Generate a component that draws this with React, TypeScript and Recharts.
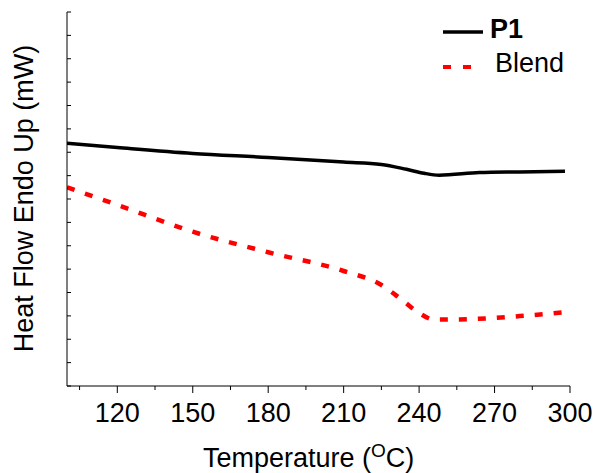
import { LineChart, Line, XAxis, YAxis } from 'recharts';

// temperature (°C) and heat flow (arbitrary units)
const p1Temp = [100, 120, 150, 180, 210, 225, 235, 242, 248, 264, 280, 298];
const p1Flow = [10.38, 10.2, 9.95, 9.78, 9.58, 9.48, 9.27, 9.1, 9.02, 9.13, 9.16, 9.19];

const blendTemp = [100, 120, 150, 180, 210, 225, 233, 240, 246, 260, 280, 298];
const blendFlow = [8.5, 7.75, 6.6, 5.72, 4.92, 4.32, 3.7, 3.12, 2.84, 2.86, 2.99, 3.16];

const xTicks = [105, 120, 135, 150, 165, 180, 195, 210, 225, 240, 255, 270, 285, 300];
const yTicks = [0, 1, 2, 3, 4, 5, 6, 7, 8, 9, 10, 11, 12, 13, 14, 15, 16];

const p1Data = p1Temp.map((t, i) => ({ t, v: p1Flow[i] }));
const blendData = blendTemp.map((t, i) => ({ t, v: blendFlow[i] }));

const FONT = '"Liberation Sans", Arial, sans-serif';

function XTick(props: any) {
    const { x, y, payload } = props;
    const major = payload.value % 30 === 0;
    return (
        <g>
            <line x1={x} x2={x} y1={y} y2={y + (major ? 7 : 4)} stroke="#000" strokeWidth={1} />
            {major && (
                <text x={x} y={y + 36} textAnchor="middle" fontSize={27} fontFamily={FONT} fill="#000">
                    {payload.value}
                </text>
            )}
        </g>
    );
}

function YTick(props: any) {
    const { x, y } = props;
    return <line x1={x} x2={x + 4} y1={y} y2={y} stroke="#000" strokeWidth={1} />;
}

function LegendBox() {
    return (
        <svg width={597} height={90} style={{ position: 'absolute', left: 0, top: 0, pointerEvents: 'none' }}>
            <line x1={443} x2={483} y1={32} y2={32} stroke="#000" strokeWidth={3.5} />
            <text x={490} y={38} fontSize={27} fontWeight="bold" fontFamily={FONT} fill="#000">P1</text>
            <line x1={443} x2={483} y1={67} y2={67} stroke="#ff0000" strokeWidth={4} strokeDasharray="8 12" />
            <text x={495} y={72} fontSize={27} fontFamily={FONT} fill="#000">Blend</text>
        </svg>
    );
}

export default function App() {
    return (
        <div style={{ position: 'absolute', left: 0, top: 0, width: 597, height: 473 }}>
            <LineChart width={597} height={473} margin={{ top: 12, right: 27, left: 0, bottom: 0 }}>
                <XAxis
                    type="number"
                    dataKey="t"
                    domain={[100, 300]}
                    ticks={xTicks}
                    allowDataOverflow
                    height={87}
                    tickSize={0}
                    tickMargin={0}
                    tickLine={false}
                    tick={<XTick />}
                    axisLine={{ stroke: '#000', strokeWidth: 1 }}
                    label={{
                        content: (p: any) => {
                            const vb = p.viewBox;
                            return (
                                <text x={203} y={vb.y + 81} textAnchor="start" fontSize={27} fontFamily={FONT} fill="#000">
                                    Temperature (<tspan fontSize={19} dy={-10}>O</tspan><tspan dy={10}>C)</tspan>
                                </text>
                            );
                        }
                    }}
                />
                <YAxis
                    type="number"
                    dataKey="v"
                    domain={[0, 16]}
                    ticks={yTicks}
                    width={67}
                    tickSize={0}
                    tickMargin={0}
                    tickLine={false}
                    tick={<YTick />}
                    axisLine={{ stroke: '#000', strokeWidth: 1 }}
                    label={{
                        content: () => (
                            <text x={33} y={198.5} transform="rotate(-90 33 198.5)" textAnchor="middle" fontSize={27} fontFamily={FONT} fill="#000">
                                Heat Flow Endo Up (mW)
                            </text>
                        )
                    }}
                />
                <Line data={p1Data} dataKey="v" type="monotone" stroke="#000" strokeWidth={3.5} dot={false} isAnimationActive={false} />
                <Line data={blendData} dataKey="v" type="monotone" stroke="#ff0000" strokeWidth={4.5} strokeDasharray="8 11" dot={false} isAnimationActive={false} />
            </LineChart>
            <LegendBox />
        </div>
    );
}
